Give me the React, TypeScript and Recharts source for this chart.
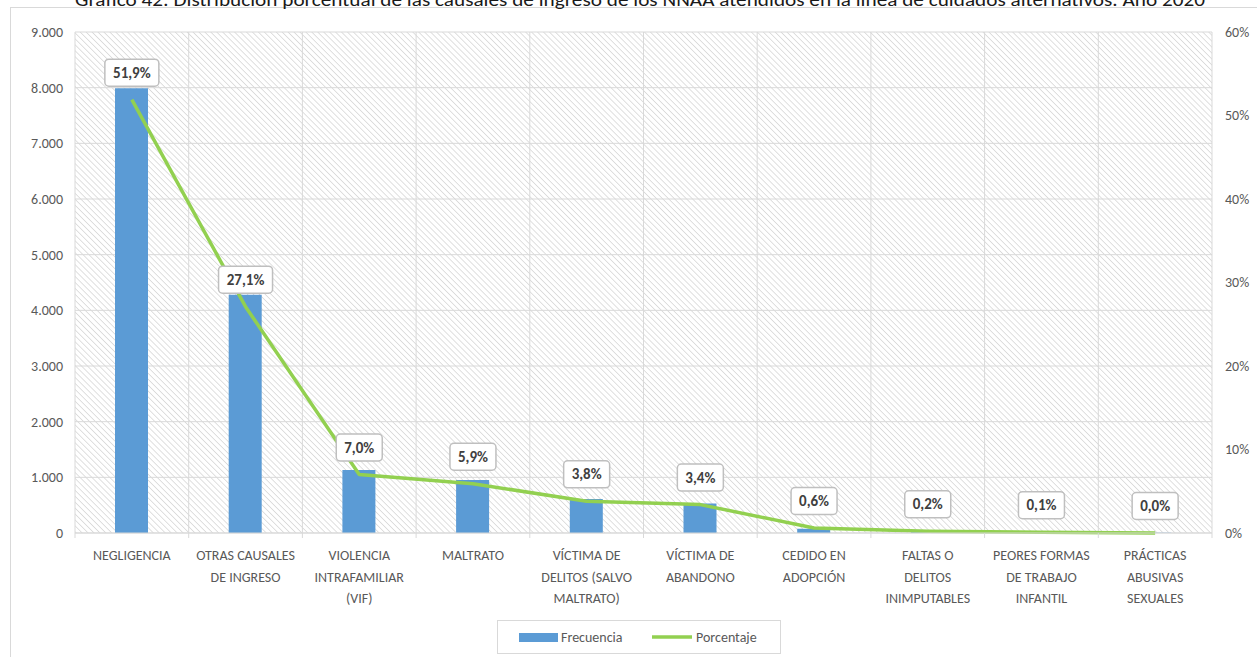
import React from 'react';
import {
  ComposedChart,
  Bar,
  Line,
  XAxis,
  YAxis,
  CartesianGrid,
  LabelList,
} from 'recharts';

// ---- data ----
const categories: string[] = [
  'NEGLIGENCIA',
  'OTRAS CAUSALES DE INGRESO',
  'VIOLENCIA INTRAFAMILIAR (VIF)',
  'MALTRATO',
  'VÍCTIMA DE DELITOS (SALVO MALTRATO)',
  'VÍCTIMA DE ABANDONO',
  'CEDIDO EN ADOPCIÓN',
  'FALTAS O DELITOS INIMPUTABLES',
  'PEORES FORMAS DE TRABAJO INFANTIL',
  'PRÁCTICAS ABUSIVAS SEXUALES',
];

const tickLabelLines: string[][] = [
  ['NEGLIGENCIA'],
  ['OTRAS CAUSALES', 'DE INGRESO'],
  ['VIOLENCIA', 'INTRAFAMILIAR', '(VIF)'],
  ['MALTRATO'],
  ['VÍCTIMA DE', 'DELITOS (SALVO', 'MALTRATO)'],
  ['VÍCTIMA DE', 'ABANDONO'],
  ['CEDIDO EN', 'ADOPCIÓN'],
  ['FALTAS O', 'DELITOS', 'INIMPUTABLES'],
  ['PEORES FORMAS', 'DE TRABAJO', 'INFANTIL'],
  ['PRÁCTICAS', 'ABUSIVAS', 'SEXUALES'],
];

const frecuencia: number[] = [7990, 4280, 1130, 950, 610, 530, 75, 25, 15, 3];
const porcentaje: number[] = [51.9, 27.1, 7.0, 5.9, 3.8, 3.4, 0.6, 0.2, 0.1, 0.0];

const leftTicks: number[] = [0, 1000, 2000, 3000, 4000, 5000, 6000, 7000, 8000, 9000];
const rightTicks: number[] = [0, 10, 20, 30, 40, 50, 60];

const title =
  'Gráfico 42: Distribución porcentual de las causales de ingreso de los NNAA atendidos en la línea de cuidados alternativos. Año 2020';

const data = categories.map((c, i) => ({
  name: c,
  Frecuencia: frecuencia[i],
  Porcentaje: porcentaje[i],
}));

// ---- layout / style ----
const W = 1257;
const H = 657;
const LEFT_AXIS_W = 75;
const RIGHT_AXIS_W = 45;
const TOP = 32;
const X_AXIS_H = 124;
const PLOT_W = W - LEFT_AXIS_W - RIGHT_AXIS_W;
const BAND = PLOT_W / categories.length;

const FONT = 'Calibri, Carlito, Lato, sans-serif';
const AXIS_COLOR = '#595959';
const GRID_COLOR = '#d9d9d9';
const BAR_COLOR = '#5b9bd5';
const LINE_COLOR = '#92d050';

const fmtThousands = (v: number) =>
  String(v).replace(/\B(?=(\d{3})+(?!\d))/g, '.');

const XTick = (props: any) => {
  const { x, y, index } = props;
  const lines = tickLabelLines[index] || [];
  return (
    <g>
      <line x1={x - BAND / 2} x2={x - BAND / 2} y1={y} y2={y + 5} stroke={GRID_COLOR} />
      {index === categories.length - 1 && (
        <line x1={x + BAND / 2} x2={x + BAND / 2} y1={y} y2={y + 5} stroke={GRID_COLOR} />
      )}
      <text
        x={x}
        y={y + 27}
        textAnchor="middle"
        fill={AXIS_COLOR}
        fontSize={14}
        fontFamily={FONT}
      >
        {lines.map((l, i) => (
          <tspan key={i} x={x} dy={i === 0 ? 0 : 21.5}>
            {l}
          </tspan>
        ))}
      </text>
    </g>
  );
};

const PctLabel = (props: any) => {
  const { x, y, value } = props;
  const txt = Number(value).toFixed(1).replace('.', ',') + '%';
  const w = txt.length * 8 + 14;
  const h = 27;
  const cy = y - 27;
  return (
    <g>
      <rect
        x={x - w / 2}
        y={cy - h / 2}
        width={w}
        height={h}
        rx={4}
        ry={4}
        fill="#ffffff"
        stroke="#bfbfbf"
        strokeWidth={1.5}
      />
      <text
        x={x}
        y={cy + 5}
        textAnchor="middle"
        fill="#404040"
        fontSize={15}
        fontWeight="bold"
        fontFamily={FONT}
      >
        {txt}
      </text>
    </g>
  );
};

export default function App() {
  return (
    <div
      style={{
        position: 'absolute',
        left: 0,
        top: 0,
        width: W,
        height: H,
        overflow: 'hidden',
        background: '#ffffff',
        fontFamily: FONT,
      }}
    >
      <svg
        width={W}
        height={H}
        style={{ position: 'absolute', left: 0, top: 0 }}
      >
        <rect x={10.5} y={7.5} width={1300} height={700} fill="none" stroke={GRID_COLOR} />
        <text
          x={640}
          y={6}
          textAnchor="middle"
          fontSize={18}
          textLength={1130}
          lengthAdjust="spacingAndGlyphs"
          fill="#1a1a1a"
          fontFamily={FONT}
        >
          {title}
        </text>
      </svg>
      <div style={{ position: 'absolute', left: 0, top: 0 }}>
        <ComposedChart
          width={W}
          height={H}
          data={data}
          margin={{ top: TOP, right: 0, bottom: 0, left: 0 }}
        >
          <defs>
            <pattern
              id="hatch"
              patternUnits="userSpaceOnUse"
              width={4.2}
              height={4.2}
              patternTransform="rotate(-45)"
            >
              <rect width={4.2} height={4.2} fill="#ffffff" />
              <line x1={0} y1={0} x2={0} y2={4.2} stroke="#c6c6c6" strokeWidth={1.1} />
            </pattern>
          </defs>
          <CartesianGrid
            yAxisId="left"
            stroke={GRID_COLOR}
            fill="url(#hatch)"
            fillOpacity={1}
            verticalCoordinatesGenerator={({ offset }: any) =>
              Array.from(
                { length: categories.length + 1 },
                (_, i) => offset.left + (i * offset.width) / categories.length
              )
            }
          />
          <XAxis
            dataKey="name"
            height={X_AXIS_H}
            interval={0}
            tickLine={false}
            tickSize={0}
            tickMargin={0}
            axisLine={{ stroke: GRID_COLOR }}
            tick={<XTick />}
          />
          <YAxis
            yAxisId="left"
            orientation="left"
            width={LEFT_AXIS_W}
            domain={[0, 9000]}
            ticks={leftTicks}
            tickFormatter={fmtThousands}
            axisLine={false}
            tickLine={false}
            tickSize={0}
            tickMargin={12}
            tick={{ fill: AXIS_COLOR, fontSize: 14, fontFamily: FONT }}
          />
          <YAxis
            yAxisId="right"
            orientation="right"
            width={RIGHT_AXIS_W}
            domain={[0, 60]}
            ticks={rightTicks}
            tickFormatter={(v: number) => `${v}%`}
            axisLine={false}
            tickLine={false}
            tickSize={0}
            tickMargin={13}
            tick={{ fill: AXIS_COLOR, fontSize: 14, fontFamily: FONT }}
          />
          <Bar
            yAxisId="left"
            dataKey="Frecuencia"
            fill={BAR_COLOR}
            barSize={33}
            isAnimationActive={false}
          />
          <Line
            yAxisId="right"
            dataKey="Porcentaje"
            type="linear"
            stroke={LINE_COLOR}
            strokeWidth={3.5}
            strokeLinejoin="round"
            dot={false}
            activeDot={false}
            isAnimationActive={false}
          >
            <LabelList dataKey="Porcentaje" content={<PctLabel />} />
          </Line>
        </ComposedChart>
      </div>
      <svg
        width={W}
        height={H}
        style={{ position: 'absolute', left: 0, top: 0, pointerEvents: 'none' }}
      >
        <rect x={497.5} y={620.5} width={283} height={33} fill="#ffffff" stroke={GRID_COLOR} />
        <rect x={519} y={633} width={39} height={9} fill={BAR_COLOR} />
        <text x={561} y={642} fontSize={14} fill={AXIS_COLOR} fontFamily={FONT}>
          Frecuencia
        </text>
        <line x1={652} x2={692} y1={637} y2={637} stroke={LINE_COLOR} strokeWidth={3.5} />
        <text x={696} y={642} fontSize={14} fill={AXIS_COLOR} fontFamily={FONT}>
          Porcentaje
        </text>
      </svg>
    </div>
  );
}
